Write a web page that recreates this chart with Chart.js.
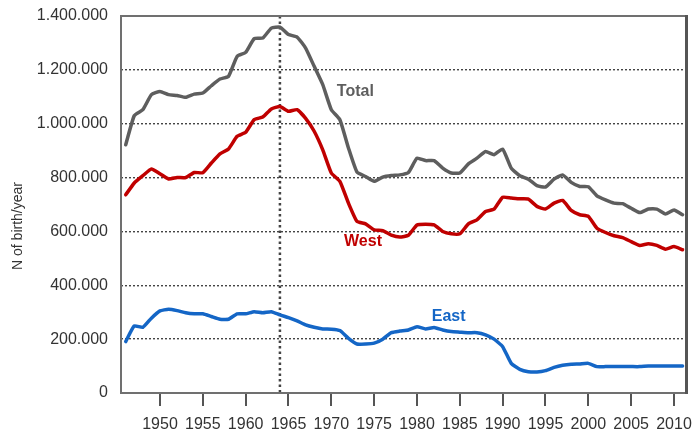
<!DOCTYPE html>
<html>
<head>
<meta charset="utf-8">
<script src="https://cdn.jsdelivr.net/npm/chart.js@4.4.1/dist/chart.umd.min.js"></script>
<style>
  html, body { margin: 0; padding: 0; background: #ffffff; }
  #wrap { width: 693px; height: 432px; position: relative; }
</style>
</head>
<body>
<div id="wrap"><canvas id="c" width="693" height="432"></canvas></div>
<script>
// ---- Data (births per year, thousands) ----
const years = [];
for (let y = 1946; y <= 2011; y++) years.push(y);

const totalK = [922,1030,1052,1108,1120,1108,1105,1098,1110,1114,
                1141,1166,1176,1250,1265,1316,1318,1355,1359,1331,
                1322,1281,1213,1145,1052,1015,910,820,804,786,
                802,808,810,819,872,863,863,835,817,817,
                851,872,897,885,906,835,807,794,770,765,
                794,810,782,767,766,732,717,705,703,686,
                670,683,683,665,680,662];
const westK = [736,780,807,832,814,795,800,800,819,818,
               854,888,906,953,968,1015,1025,1055,1064,1046,
               1052,1020,972,903,817,786,705,637,628,606,
               603,586,579,586,624,627,624,600,591,591,
               628,643,674,683,727,724,721,720,693,683,
               705,715,678,662,656,612,596,584,577,562,
               548,554,548,534,544,532];
const eastK = [191,249,244,278,305,311,306,298,294,294,
               284,274,274,294,294,302,298,302,290,280,
               268,253,244,238,237,232,203,182,182,185,
               200,224,230,234,246,238,243,234,228,226,
               224,224,216,200,172,110,88,79,78,83,
               95,103,107,108,110,98,98,98,98,98,
               98,100,100,100,100,100];

const xTickYears = [1950,1955,1960,1965,1970,1975,1980,1985,1990,1995,2000,2005,2010];
const yTickValues = [0,200000,400000,600000,800000,1000000,1200000,1400000];
const markerYear = 1964;
const seriesLabels = ['Total', 'West', 'East'];
const labelPositions = [[1972.8, 1119000], [1973.7, 561000], [1983.7, 283000]];

const colors = ['#5e5e5e', '#c00000', '#1466c6'];
const FONT = "'Liberation Sans', Arial, sans-serif";

function toPoints(arr) { return years.map((y, i) => ({ x: y, y: arr[i] * 1000 })); }
function fmt(v) { return String(v).replace(/\B(?=(\d{3})+(?!\d))/g, '.'); }

const overlay = {
  id: 'overlay',
  beforeDatasetsDraw(chart) {
    const { ctx, chartArea: a, scales: { x } } = chart;
    const px = x.getPixelForValue(markerYear);
    ctx.save();
    ctx.strokeStyle = '#444';
    ctx.lineWidth = 2.5;
    ctx.setLineDash([2.5, 3]);
    ctx.beginPath();
    ctx.moveTo(px, a.top);
    ctx.lineTo(px, a.bottom);
    ctx.stroke();
    ctx.restore();
  },
  afterDatasetsDraw(chart) {
    const { ctx, chartArea: a, scales: { x, y } } = chart;
    ctx.save();
    ctx.font = "bold 16px " + FONT;
    ctx.textAlign = 'center';
    ctx.textBaseline = 'middle';
    seriesLabels.forEach((t, i) => {
      ctx.fillStyle = colors[i];
      ctx.fillText(t, x.getPixelForValue(labelPositions[i][0]), y.getPixelForValue(labelPositions[i][1]));
    });
    // frame
    ctx.setLineDash([]);
    ctx.strokeStyle = '#707070';
    ctx.lineWidth = 2;
    ctx.strokeRect(a.left, a.top, a.right - a.left, a.bottom - a.top);
    ctx.strokeStyle = '#555';
    ctx.lineWidth = 3;
    ctx.beginPath();
    ctx.moveTo(a.right + 0.5, a.top - 1);
    ctx.lineTo(a.right + 0.5, a.bottom + 1);
    ctx.stroke();
    // y title
    ctx.translate(18, 226);
    ctx.rotate(-Math.PI / 2);
    ctx.font = "14px " + FONT;
    ctx.fillStyle = '#333';
    ctx.fillText('N of birth/year', 0, 0);
    ctx.restore();
  }
};

new Chart(document.getElementById('c'), {
  type: 'line',
  data: {
    datasets: [
      { label: seriesLabels[0], data: toPoints(totalK), borderColor: colors[0] },
      { label: seriesLabels[1], data: toPoints(westK), borderColor: colors[1] },
      { label: seriesLabels[2], data: toPoints(eastK), borderColor: colors[2] }
    ]
  },
  options: {
    responsive: false,
    animation: false,
    devicePixelRatio: 1,
    layout: { padding: { top: 16, right: 7, left: 0, bottom: 0 } },
    elements: {
      line: { borderWidth: 3.5, tension: 0.15, borderCapStyle: 'round', borderJoinStyle: 'round' },
      point: { radius: 0 }
    },
    plugins: { legend: { display: false }, tooltip: { enabled: false } },
    scales: {
      x: {
        type: 'linear',
        min: 1945.45,
        max: 2011.4,
        afterBuildTicks(scale) { scale.ticks = xTickYears.map(v => ({ value: v })); },
        afterFit(scale) { scale.height = 39; scale.paddingLeft = 0; scale.paddingRight = 0; },
        grid: { display: true, drawOnChartArea: false, drawTicks: true, tickLength: 13, color: '#555', lineWidth: 2 },
        border: { display: false },
        ticks: { color: '#333', font: { family: FONT, size: 16 }, padding: 9, maxRotation: 0, autoSkip: false,
                 callback: v => String(v) }
      },
      y: {
        min: 0,
        max: 1400000,
        afterBuildTicks(scale) { scale.ticks = yTickValues.map(v => ({ value: v })); },
        afterFit(scale) { scale.width = 121; scale.paddingTop = 0; scale.paddingBottom = 0; },
        grid: {
          drawTicks: false,
          lineWidth: 1.4,
          color: c => (c.tick && (c.tick.value === 0 || c.tick.value === 1400000)) ? 'rgba(0,0,0,0)' : '#444'
        },
        border: { display: false, dash: [2, 2] },
        ticks: { color: '#333', font: { family: FONT, size: 16 }, padding: 13, callback: v => fmt(v) }
      }
    }
  },
  plugins: [overlay]
});
</script>
</body>
</html>
